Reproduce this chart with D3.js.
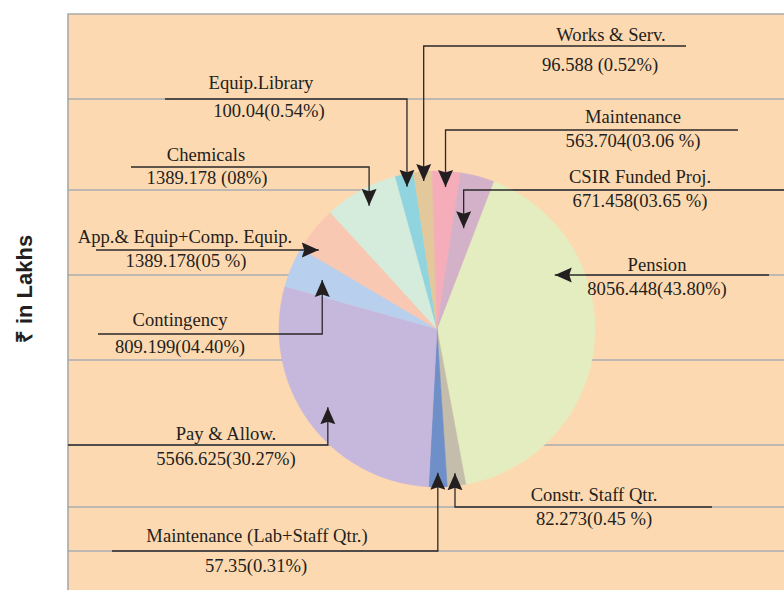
<!DOCTYPE html>
<html>
<head>
<meta charset="utf-8">
<script src="https://cdn.jsdelivr.net/npm/d3@7"></script>
<style>
  body { margin: 0; background: #fff; }
  svg { display: block; }
  .lbl { font-family: "Liberation Serif", "Times New Roman", serif; font-size: 18.6px; fill: #231f20; }
</style>
</head>
<body>
<div id="chart"></div>
<script>
// Expenditure pie, clockwise from Pension
var categories = ["Pension", "Constr. Staff Qtr.", "Maintenance (Lab+Staff Qtr.)", "Pay & Allow.",
  "Contingency", "App.& Equip+Comp. Equip.", "Chemicals", "Equip.Library", "Works & Serv.",
  "Maintenance", "CSIR Funded Proj."];
var amounts = [8056.448, 82.273, 57.35, 5566.625, 809.199, 1389.178, 1389.178, 100.04, 96.588, 563.704, 671.458];
var shares = [43.80, 0.45, 0.31, 30.27, 4.40, 5, 8, 0.54, 0.52, 3.06, 3.65];
var valueLabels = ["8056.448(43.80%)", "82.273(0.45 %)", "57.35(0.31%)", "5566.625(30.27%)",
  "809.199(04.40%)", "1389.178(05 %)", "1389.178 (08%)", "100.04(0.54%)", "96.588 (0.52%)",
  "563.704(03.06 %)", "671.458(03.65 %)"];
var colors = ["#e4edbf", "#c5bdab", "#6f8fc9", "#c6b7dc", "#b9cfee", "#f9c8b3", "#d5ecdc",
  "#8fd4df", "#e2c89b", "#f5adba", "#d3b1c8"];

// background rule lines of the plot area
var gridY = [99, 190, 275, 360, 445, 507, 551];

var w = 784, h = 590;
var cx = 437, cy = 329, r = 158;
var minShare = 2; // tiny slices are widened so they stay visible

// callout layout: name / value text, leader line row, outer end, kind, tip radius
var callouts = [
  { nx: 657, ny: 271, vx: 657, vy: 295, ly: 275, ox: 769, kind: "h", k: 0.82 },
  { nx: 594, ny: 501, vx: 594, vy: 525, ly: 507, ox: 712, kind: "v", k: 0.92 },
  { nx: 257, ny: 542, vx: 256, vy: 572, ly: 551, ox: 112, kind: "v", k: 0.91 },
  { nx: 226, ny: 440, vx: 226, vy: 465, ly: 445, ox: 68,  kind: "v", k: 0.85 },
  { nx: 180, ny: 326, vx: 180, vy: 353, ly: 334, ox: 98,  kind: "v", k: 0.79 },
  { nx: 185, ny: 243, vx: 186, vy: 267, ly: 250, ox: 96,  kind: "h", k: 0.9 },
  { nx: 206, ny: 161, vx: 207, vy: 184, ly: 167, ox: 131, kind: "v", k: 0.89 },
  { nx: 261, ny: 89,  vx: 269, vy: 117, ly: 99,  ox: 165, kind: "v", k: 0.92 },
  { nx: 611, ny: 41,  vx: 600, vy: 71,  ly: 46,  ox: 686, kind: "v", k: 0.94 },
  { nx: 633, ny: 123, vx: 633, vy: 147, ly: 130, ox: 738, kind: "v", k: 0.9 },
  { nx: 640, ny: 183, vx: 640, vy: 207, ly: 190, ox: 790, kind: "v", k: 0.66 }
];

var data = categories.map(function(c, i) {
  return { name: c, amount: amounts[i], share: shares[i], label: valueLabels[i], color: colors[i], co: callouts[i] };
});

var svg = d3.select("#chart").append("svg")
  .attr("width", w)
  .attr("height", h);

svg.append("defs").append("marker")
  .attr("id", "arrow")
  .attr("markerUnits", "userSpaceOnUse")
  .attr("viewBox", "0 -8 17 16")
  .attr("refX", 17)
  .attr("refY", 0)
  .attr("markerWidth", 17)
  .attr("markerHeight", 16)
  .attr("orient", "auto")
.append("path")
  .attr("d", "M0,-7.5L17,0L0,7.5L2.5,0Z")
  .attr("fill", "#231f20");

// plot area
svg.append("rect")
  .attr("x", 68).attr("y", 14)
  .attr("width", w).attr("height", h)
  .attr("fill", "#fdd9b1");

svg.selectAll(".grid")
  .data(gridY)
.enter().append("line")
  .attr("class", "grid")
  .attr("x1", 68).attr("x2", w)
  .attr("y1", function(d) { return d; })
  .attr("y2", function(d) { return d; })
  .attr("stroke", "#a9abb3")
  .attr("stroke-width", 1.3);

svg.append("path")
  .attr("d", "M68," + h + "V14H" + w)
  .attr("fill", "none")
  .attr("stroke", "#a9a9ab")
  .attr("stroke-width", 1.6);

var start = 21 * Math.PI / 180;
var pie = d3.pie()
  .sort(null)
  .value(function(d) { return Math.max(d.share, minShare); })
  .startAngle(start)
  .endAngle(start + 2 * Math.PI);

var arc = d3.arc().innerRadius(0).outerRadius(r);

var arcs = pie(data);

var gp = svg.append("g").attr("transform", "translate(" + cx + "," + cy + ")");
gp.selectAll(".slice")
  .data(arcs)
.enter().append("path")
  .attr("class", "slice")
  .attr("d", arc)
  .attr("fill", function(d) { return d.data.color; })
  .attr("stroke", function(d) { return d.data.color; })
  .attr("stroke-width", 0.5);

// leader lines
function leader(d) {
  var co = d.data.co;
  var mid = (d.startAngle + d.endAngle) / 2;
  var rr = co.k * r;
  if (co.kind == "h") {
    var dy = co.ly - cy;
    var dx = Math.sqrt(rr * rr - dy * dy) * (Math.sin(mid) < 0 ? -1 : 1);
    return "M" + co.ox + "," + co.ly + "H" + (cx + dx);
  }
  var tx = cx + rr * Math.sin(mid),
    ty = cy - rr * Math.cos(mid);
  return "M" + co.ox + "," + co.ly + "H" + tx + "V" + ty;
}

svg.selectAll(".leader")
  .data(arcs)
.enter().append("path")
  .attr("class", "leader")
  .attr("d", leader)
  .attr("fill", "none")
  .attr("stroke", "#2b2829")
  .attr("stroke-width", 1.3)
  .attr("marker-end", "url(#arrow)");

var gl = svg.selectAll(".callout")
  .data(data)
.enter().append("g")
  .attr("class", "callout");

gl.append("text")
  .attr("class", "lbl")
  .attr("x", function(d) { return d.co.nx; })
  .attr("y", function(d) { return d.co.ny; })
  .attr("text-anchor", "middle")
  .text(function(d) { return d.name; });

gl.append("text")
  .attr("class", "lbl")
  .attr("x", function(d) { return d.co.vx; })
  .attr("y", function(d) { return d.co.vy; })
  .attr("text-anchor", "middle")
  .text(function(d) { return d.label; });

// axis title
svg.append("text")
  .attr("transform", "translate(32,289) rotate(-90)")
  .attr("text-anchor", "middle")
  .style("font-family", "'Liberation Sans', Arial, sans-serif")
  .style("font-weight", "bold")
  .style("font-size", "22px")
  .style("fill", "#231f20")
  .text("₹ in Lakhs");
</script>
</body>
</html>
